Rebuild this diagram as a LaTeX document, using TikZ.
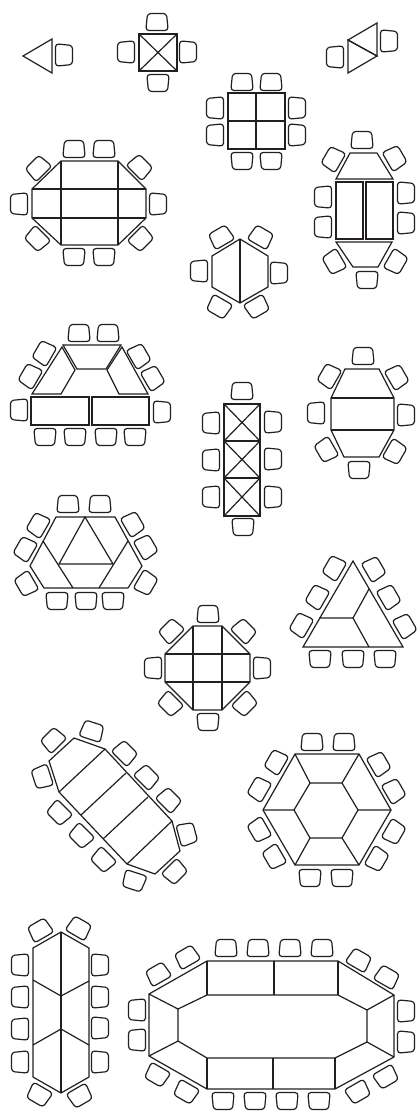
\documentclass[tikz,border=0pt]{standalone}
\definecolor{inkline}{HTML}{231F20}
\newcommand{\chairs}[1]{\foreach \cx/\cy/\ca in {#1} \pic[rotate=-\ca] at (\cx,\cy) {chair};}

\begin{document}
\begin{tikzpicture}[
  x=1pt, y=-1pt,
  tbl/.style={draw=inkline, line width=1.2pt, line join=miter},
  seat/.style={draw=inkline, line width=1.2pt, rounded corners=3.2pt},
  chair/.pic={\draw[seat] (-9.5,-8.5) -- (9.5,-8.5) -- (11.2,8.5) -- (-11.2,8.5) -- cycle;},
]

% Background
\fill[white] (0,0) rectangle (419,1119);
\useasboundingbox (0,0) rectangle (419,1119);

% Single triangle
\draw[tbl] (52,39) -- (23,56) -- (52,73) -- cycle;
\chairs{64/55/90}

% Square with cross
\draw[tbl] (139,34) rectangle (177,71);
\draw[tbl] (139,34) -- (177,71) (177,34) -- (139,71);
\chairs{157/22/0, 158/83/180, 126/52/270, 188/52/90}

% Two triangles
\draw[tbl] (377,23) -- (348,40) -- (377,56) -- cycle;
\draw[tbl] (348,40) -- (377,56) -- (348,73) -- cycle;
\chairs{389/41/90, 335/57/270}

% Two by two
\draw[tbl] (228,93) rectangle (285,149);
\draw[tbl] (256,93) -- (256,149) (228,121) -- (285,121);
\chairs{242/82/0, 271/82/0, 242/161/180, 271/161/180,
  215/108/270, 215/135/270, 297/108/90, 297/135/90}

% Octagon, left
\draw[tbl] (61,161) -- (118,161) -- (146,189) -- (146,218) -- (118,245) -- (61,245) -- (32,218) -- (32,189) -- cycle;
\draw[tbl] (61,161) -- (61,245) (118,161) -- (118,245) (32,189) -- (146,189) (32,218) -- (146,218);
\chairs{74/149/0, 104/149/0, 74/257/180, 104/257/180, 19/204/270, 158/204/90,
  38/168/315, 140/167/45, 37/239/225, 141/239/135}

% Hexagon
\draw[tbl] (240,239) -- (268,256) -- (268,287) -- (240,303) -- (212,287) -- (212,256) -- cycle;
\draw[tbl] (240,239) -- (240,303);
\chairs{199/271/270, 279/273/90, 221/237/330, 261/237/30, 219/307/210, 257/307/150}

% Two rectangles between trapezoids
\draw[tbl] (350,153) -- (377,153) -- (393,179) -- (336,179) -- cycle;
\draw[tbl] (336,182) rectangle (363,239);
\draw[tbl] (366,182) rectangle (393,239);
\draw[tbl] (336,242) -- (392,242) -- (378,267) -- (353,267) -- cycle;
\chairs{362/140/0, 323/197/270, 323/227/270, 406/193/90, 406/223/90,
  333/159/300, 395/158/60, 334/262/240, 396/262/120, 367/280/180}

% Horseshoe
\draw[tbl] (63,345) -- (121,345) -- (106,369) -- (77,369) -- cycle;
\draw[tbl] (62,347) -- (75,370) -- (61,394) -- (32,394) -- cycle;
\draw[tbl] (122,347) -- (148,394) -- (119,394) -- (107,370) -- cycle;
\draw[tbl] (31,397) rectangle (89,425);
\draw[tbl] (92,397) rectangle (149,425);
\chairs{79/333/0, 108/333/0, 44/353/300, 30/376/300, 139/356/60, 153/378/60,
  19/410/270, 162/412/90, 45/437/180, 75/437/180, 106/437/180, 135/437/180}

% Three crossed squares
\draw[tbl] (224,404) rectangle (260,516);
\draw[tbl] (224,441) -- (260,441) (224,478) -- (260,478);
\foreach \ya/\yb in {404/441, 441/478, 478/516}
  \draw[tbl] (224,\ya) -- (260,\yb) (260,\ya) -- (224,\yb);
\chairs{242/391/0, 243/527/180, 211/423/270, 211/460/270, 211/497/270,
  273/422/90, 273/459/90, 273/497/90}

% Long hexagon, right
\draw[tbl] (345,369) -- (379,369) -- (394,398) -- (394,430) -- (379,457) -- (344,457) -- (331,430) -- (331,398) -- cycle;
\draw[tbl] (331,398) -- (394,398) (331,430) -- (394,430);
\chairs{363/356/0, 359/470/180, 316/413/270, 406/415/90,
  329/376/300, 397/377/60, 326/450/240, 395/452/120}

% Hexagon with triangle
\draw[tbl] (56,517) -- (115,517) -- (142,566) -- (128,588) -- (44,588) -- (30,566) -- cycle;
\draw[tbl] (85,517) -- (59,564) -- (113,564) -- cycle;
\draw[tbl] (43,541) -- (73,588) (128,541) -- (99,588);
\chairs{68/504/0, 100/504/0, 57/601/180, 86/601/180, 113/601/180,
  38/525/300, 25/549/300, 26/584/240, 133/524/60, 146/547/60, 146/583/120}

% Large triangle
\draw[tbl] (353,561) -- (403,647) -- (303,647) -- cycle;
\draw[tbl] (319,618) -- (353,618) -- (369,589) (353,618) -- (369,647);
\chairs{334/568/300, 317/597/300, 301/625/300, 374/569/60, 389/597/60, 405/626/60,
  320/659/180, 353/659/180, 385/659/180}

% Octagon, centre
\draw[tbl] (193,626) -- (222,626) -- (250,654) -- (250,682) -- (222,710) -- (193,710) -- (165,682) -- (165,654) -- cycle;
\draw[tbl] (193,626) -- (193,710) (222,626) -- (222,710) (165,654) -- (250,654) (165,682) -- (250,682);
\chairs{208/614/0, 208/722/180, 153/668/270, 262/668/90,
  171/631/315, 244/631/45, 170/704/225, 245/704/135}

% Slanted table
\draw[tbl] (74,738) -- (105,749) -- (172,821) -- (180,851) -- (155,874) -- (127,864) -- (59,792) -- (49,761) -- cycle;
\draw[tbl] (105,749) -- (59,792) (126,773) -- (81,815) (148,797) -- (103,839) (172,821) -- (127,864);
\chairs{53/740/315, 92/731/18, 42/777/252, 125/753/45, 147/777/45, 169/800/45,
  187/834/75, 175/872/135, 134/881/198, 59/813/225, 81/836/225, 103/860/225}

% Hexagon ring
\draw[tbl] (295,754) -- (359,754) -- (391,810) -- (359,865) -- (295,865) -- (263,810) -- cycle;
\draw[tbl] (310,783) -- (342,783) -- (358,810) -- (342,838) -- (310,838) -- (294,810) -- cycle;
\draw[tbl] (295,754) -- (310,783) (359,754) -- (342,783) (263,810) -- (294,810)
  (391,810) -- (358,810) (295,865) -- (310,838) (359,865) -- (342,838);
\chairs{312/742/0, 344/742/0, 310/878/180, 342/878/180,
  276/762/300, 259/789/300, 259/830/240, 274/857/240,
  379/764/60, 394/791/60, 394/832/120, 377/859/120}

% Tall table, bottom left
\draw[tbl] (61,932) -- (89,948) -- (89,1077) -- (61,1093) -- (33,1077) -- (33,948) -- cycle;
\draw[tbl] (61,932) -- (61,1093);
\draw[tbl] (33,980) -- (61,996) -- (89,981) (33,1045) -- (61,1029) -- (89,1045);
\chairs{40/930/330, 79/928/30, 39/1095/210, 80/1096/150,
  20/965/270, 20/997/270, 20/1029/270, 20/1062/270,
  100/965/90, 100/997/90, 100/1028/90, 100/1062/90}

% Big ring table
\draw[tbl] (207,961) -- (338,961) -- (394,995) -- (394,1057) -- (335,1089) -- (207,1089) -- (149,1056) -- (149,994) -- cycle;
\draw[tbl] (207,995) -- (338,995) -- (367,1010) -- (367,1042) -- (335,1058) -- (207,1058) -- (178,1041) -- (178,1009) -- cycle;
\draw[tbl] (149,994) -- (178,1009) (394,995) -- (367,1010) (394,1057) -- (367,1042) (149,1056) -- (178,1041);
\draw[tbl] (207,961) -- (207,995) (274,961) -- (274,995) (338,961) -- (338,995);
\draw[tbl] (207,1058) -- (207,1089) (273,1058) -- (273,1089) (335,1058) -- (335,1089);
\chairs{226/948/0, 258/948/0, 290/948/0, 322/948/0,
  223/1101/180, 255/1101/180, 287/1101/180, 319/1101/180,
  137/1010/270, 137/1040/270, 406/1011/90, 406/1042/90,
  158/974/330, 187/957/330, 359/960/30, 387/977/30,
  157/1075/210, 186/1092/210, 358/1092/150, 386/1077/150}

\end{tikzpicture}
\end{document}
